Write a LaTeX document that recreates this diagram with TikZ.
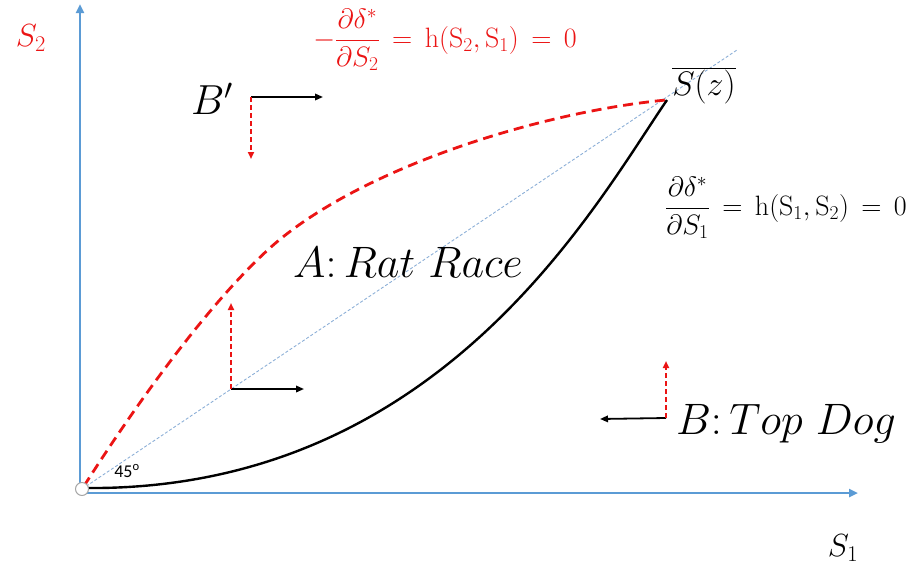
\documentclass[tikz,border=0pt]{standalone}
\usepackage{fix-cm}
\usepackage{fontspec}
\newfontfamily\calibri{Carlito}
\usetikzlibrary{arrows.meta}
\definecolor{axisblue}{RGB}{91,155,213}
\definecolor{diagblue}{RGB}{140,175,215}
\definecolor{eqred}{RGB}{235,20,20}
\tikzset{
  axisline/.style={draw=axisblue,line width=2.4pt,-{Triangle[length=9pt,width=8pt]}},
  blackarrow/.style={draw=black,line width=1.8pt,-{Triangle[length=8pt,width=6.5pt]}},
  redarrow/.style={draw=eqred,line width=2pt,dash pattern=on 5pt off 3pt,-{Triangle[length=7pt,width=6pt]}},
  bigmath/.style={font=\fontsize{44}{48}\selectfont,inner sep=0pt},
  eqtext/.style={font=\fontsize{28}{32}\selectfont,inner sep=0pt},
  axlabel/.style={font=\fontsize{32}{36}\selectfont,inner sep=0pt}
}
\begin{document}
\begin{tikzpicture}[x=1pt,y=-1pt]
\useasboundingbox (0,0) rectangle (913,571);
% axes
\coordinate (ytop) at (80,4);
\coordinate (xend) at (858,493);
\draw[axisline] (80,494) -- (ytop);
\draw[axisline] (78,493) -- (xend);
% diagonal
\coordinate (diagend) at (737,50);
\draw[diagblue,line width=0.9pt,dash pattern=on 3pt off 2pt] (82,489) -- (diagend);
% red dashed curve
\draw[eqred,line width=2.8pt,dash pattern=on 10pt off 6pt]
  (84,486) .. controls (140,398) and (211,301) .. (271,247)
  .. controls (360,168) and (540,112) .. (666,100);
% black curve
\draw[black,line width=2.4pt]
  (84,488) .. controls (440,492) and (595,205) .. (667,100);
% origin circle
\node[circle,draw=gray!70,fill=white,line width=1pt,minimum size=13pt,inner sep=0pt] (orig) at (82,489) {};
% labels
\node[axlabel,text=eqred] (S2) at (31,38) {$S_2$};
\node[axlabel] (S1) at (843,548) {$S_1$};
\node[eqtext,text=eqred] (eqred) at (445,40) {$\displaystyle -\frac{\partial\delta^*}{\partial S_2}\,=\,\mathrm{h}(\mathrm{S}_2,\mathrm{S}_1)\,=\,0$};
\node[eqtext] (eqblack) at (786,208) {$\displaystyle \frac{\partial\delta^*}{\partial S_1}\,=\,\mathrm{h}(\mathrm{S}_1,\mathrm{S}_2)\,=\,0$};
\node[font=\fontsize{34}{38}\selectfont,inner sep=0pt] (Sz) at (704,86) {$\overline{S(z)}$};
\node[font=\fontsize{42}{46}\selectfont,inner sep=0pt] (Bp) at (212,99) {$B'$};
\node[bigmath] (A) at (408,262) {$A\colon Rat\ Race$};
\node[bigmath] (B) at (786,424) {$B\colon Top\ Dog$};
\node[font=\calibri\fontsize{18}{20}\selectfont,inner sep=0pt] (deg) at (127,471) {45\textsuperscript{o}};
% direction arrows B'
\coordinate (bp0) at (251,97);
\coordinate (bpR) at (323,97);
\coordinate (bpD) at (251,159);
\draw[blackarrow] (bp0) -- (bpR);
\draw[redarrow] (bp0) -- (bpD);
% direction arrows A
\coordinate (a0) at (231,389);
\coordinate (aR) at (304,389);
\coordinate (aU) at (231,303);
\draw[blackarrow] (a0) -- (aR);
\draw[redarrow] (a0) -- (aU);
% direction arrows B
\coordinate (b0) at (666,418);
\coordinate (bL) at (600,419);
\coordinate (bU) at (666,361);
\draw[blackarrow] (b0) -- (bL);
\draw[redarrow] (b0) -- (bU);
\end{tikzpicture}
\end{document}
